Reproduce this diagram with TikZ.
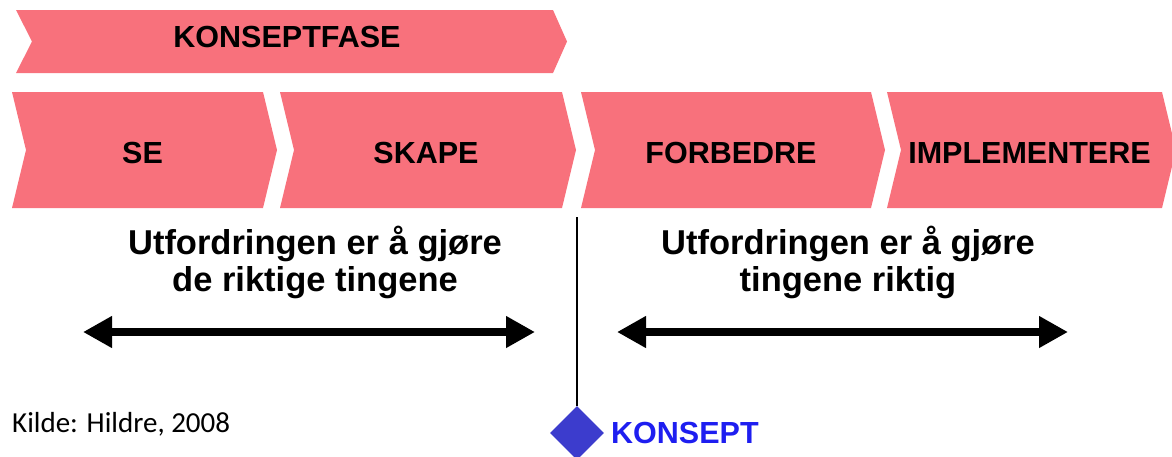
\documentclass[tikz,border=0pt]{standalone}
\usepackage{fontspec}
\setmainfont{Liberation Sans}
\newfontfamily\kildefont{Carlito}
\usetikzlibrary{arrows.meta,shapes.geometric,positioning}
\definecolor{rosa}{RGB}{248,113,124}
\definecolor{diamantblaa}{RGB}{60,60,205}
\definecolor{tekstblaa}{RGB}{30,30,240}
\tikzset{
	fase/.style={fill=rosa},
	fasetekst/.style={font=\bfseries\fontsize{30.5}{36}\selectfont,inner sep=0pt},
	utfordring/.style={font=\bfseries\fontsize{34.5}{37}\selectfont,align=center,inner sep=0pt},
	dobbelpil/.style={line width=8pt,{Triangle[length=29pt,width=30pt]}-{Triangle[length=29pt,width=30pt]}},
}
\begin{document}
\begin{tikzpicture}[x=1pt,y=-1pt]
		\useasboundingbox (0,0) rectangle (1172,456);
		\fill[fase] (16,10) -- (553,10) -- (567,41.5) -- (553,73) -- (16,73) -- (32,41.5) -- cycle;
		\node[fasetekst] (konseptfase) at (287,37) {KONSEPTFASE};
		\foreach \v/\h/\tekst/\navn in {12/263/SE/se, 280/562/SKAPE/skape, 581/871/FORBEDRE/forbedre, 887/1162/IMPLEMENTERE/implementere}{
			\fill[fase] (\v,92) -- (\h,92) -- (\h+14,150) -- (\h,208) -- (\v,208) -- (\v+14,150) -- cycle;
			\node[fasetekst] (\navn) at ({(\v+\h)/2+5},153) {\tekst};
		}
		\node[utfordring] (venstre) at (315,262) {Utfordringen er å gjøre\\de riktige tingene};
		\node[utfordring] (hoyre) at (848,262) {Utfordringen er å gjøre\\tingene riktig};
		\coordinate (v1) at (83,332);
		\coordinate (v2) at (535,332);
		\coordinate (h1) at (617,332);
		\coordinate (h2) at (1068,332);
		\draw[dobbelpil] (v1) -- (v2);
		\draw[dobbelpil] (h1) -- (h2);
		\node[diamond,fill=diamantblaa,inner sep=0pt,minimum width=54pt,minimum height=54pt] (konsept) at (577,433) {};
		\coordinate (skille) at (577,217);
		\draw[line width=2pt] (skille) -- (konsept.north);
		\node[anchor=west,inner sep=0pt,text=tekstblaa,font=\bfseries\fontsize{30.5}{36}\selectfont] (konsepttekst) at (611,433) {KONSEPT};
		\node[anchor=west,inner sep=0pt,font=\kildefont\fontsize{29}{34}\selectfont] (kilde) at (12,424) {Kilde: Hildre, 2008};
	\end{tikzpicture}
\end{document}
